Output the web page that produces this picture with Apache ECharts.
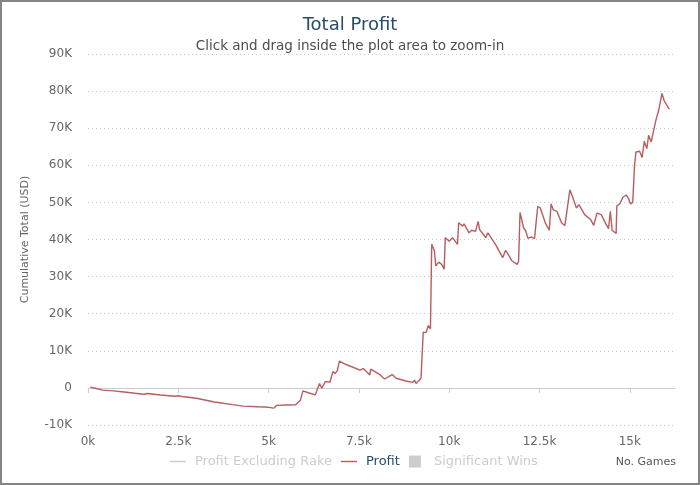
<!DOCTYPE html>
<html>
<head>
<meta charset="utf-8">
<title>Total Profit</title>
<script src="https://cdn.jsdelivr.net/npm/echarts@6/dist/echarts.min.js"></script>
<style>
    html, body { margin: 0; padding: 0; background: #fff; }
    #chart {
        width: 700px;
        height: 485px;
        box-sizing: border-box;
        border: 2px solid #858585;
    }
</style>
</head>
<body>
<div id="chart"></div>
<script>
// 数据（从图上读取的折线拐点）
const gameNo = [
    60, 200, 400, 700, 1000, 1300, 1550, 1650, 1700, 2000, 2400, 2500, 2600, 3000, 3500,
    4000, 4300, 4700, 4900, 5000, 5150, 5220, 5500, 5750, 5880, 5950, 6100, 6290, 6340,
    6410, 6470, 6570, 6700, 6780, 6840, 6900, 6960, 7100, 7250, 7530, 7620, 7800, 7830,
    8080, 8140, 8210, 8420, 8530, 8800, 8990, 9040, 9080, 9180, 9220, 9260, 9280, 9360,
    9420, 9480, 9500, 9515, 9590, 9630, 9710, 9790, 9860, 9890, 10000, 10090, 10230,
    10260, 10370, 10410, 10550, 10620, 10730, 10800, 10840, 11010, 11070, 11280, 11480,
    11560, 11630, 11740, 11880, 11920, 11960, 12060, 12110, 12180, 12270, 12360, 12410,
    12450, 12520, 12660, 12770, 12820, 12880, 12980, 13110, 13200, 13250, 13300, 13340,
    13430, 13520, 13590, 13750, 13920, 14000, 14050, 14090, 14210, 14300, 14410, 14460,
    14510, 14620, 14640, 14720, 14810, 14900, 14960, 15020, 15080, 15130, 15170, 15270,
    15340, 15400, 15470, 15520, 15590, 15660, 15720, 15770, 15800, 15840, 15890, 15950,
    16000, 16060, 16100
];
const profit = [
    200, -100, -600, -800, -1100, -1450, -1700, -1500, -1650, -1900, -2250, -2100, -2300, -2800, -3800,
    -4500, -4900, -5100, -5150, -5250, -5450, -4700, -4600, -4550, -3300, -800, -1300, -1900, -600,
    1200, -100, 1700, 1600, 4400, 3900, 4600, 7200, 6500, 5900, 4800, 5200, 3500, 5050,
    3600, 3000, 2400, 3600, 2600, 1850, 1500, 2100, 1200, 2100, 2750, 3000, 15050, 14900,
    16800, 15900, 16200, 38700, 36900, 32900, 33900, 33300, 32000, 40500, 39500, 40500, 38700,
    44500, 43600, 44200, 41800, 42500, 42200, 44900, 42700, 40500, 41800, 38700, 35100,
    37100, 36000, 34200, 33300, 34200, 47300, 43100, 42500, 40300, 40700, 40200, 40700,
    48900, 48500, 44500, 42500, 49600, 48000, 47600, 44500, 43700, 47100, 46700, 53400,
    51100, 48500, 49400, 46700, 45300, 43800, 44300, 47100, 46700, 44900, 42900, 47600,
    42500, 41600, 49100, 49600, 51400, 52000, 51100, 49600, 50000, 60000, 63600, 63800,
    62100, 66500, 64500, 68100, 66300, 69400, 72100, 71600, 74900, 75200, 79400, 77400,
    77200, 75600, 75200
];
const xTicks = [0, 2500, 5000, 7500, 10000, 12500, 15000];
const seriesNames = ['Profit Excluding Rake', 'Profit', 'Significant Wins'];

const chart = echarts.init(document.getElementById('chart'));

const FONT = 'DejaVu Sans';
// 图例图标：线段 16px 宽 + 右侧留白，方块 12px
const lineIcon = 'path://M0,0 M0,5.3 L16,5.3 L16,6.7 L0,6.7 Z M20,12';
const boxIcon = 'path://M0,0 L12,0 L12,12 L0,12 Z M20,12';

const option = {
    animation: false,
    textStyle: { fontFamily: FONT },
    title: [
        {
            text: 'Total Profit',
            left: 'center',
            top: 9,
            textStyle: { fontSize: 18, fontWeight: 'normal', color: '#274b6d', fontFamily: FONT }
        },
        {
            text: 'Click and drag inside the plot area to zoom-in',
            left: 'center',
            top: 32,
            textStyle: { fontSize: 13.5, fontWeight: 'normal', color: '#4d4d4d', fontFamily: FONT }
        }
    ],
    legend: {
        left: 163,
        top: 448,
        itemWidth: 20,
        itemHeight: 12,
        itemGap: 9,
        inactiveColor: '#cccccc',
        textStyle: { fontSize: 13, color: '#274b6d', fontFamily: FONT },
        data: [
            { name: seriesNames[0], icon: lineIcon },
            { name: seriesNames[1], icon: lineIcon },
            { name: seriesNames[2], icon: boxIcon }
        ],
        selected: {
            'Profit Excluding Rake': false,
            'Profit': true,
            'Significant Wins': false
        }
    },
    graphic: [
        {
            type: 'text',
            right: 22,
            top: 455,
            style: { text: 'No. Games', fontSize: 11, fill: '#555', fontFamily: FONT }
        }
    ],
    grid: { left: 86, right: 23, top: 52, bottom: 58 },
    xAxis: {
        type: 'value',
        min: 0,
        max: 16250,
        interval: 2500,
        axisLine: { lineStyle: { color: '#c6ccd2', width: 1 } },
        axisTick: { show: true, length: 5, lineStyle: { color: '#c6ccd2' }, customValues: xTicks },
        axisLabel: {
            color: '#666',
            fontSize: 12,
            margin: 11,
            customValues: xTicks,
            formatter: v => (v / 1000) + 'k'
        },
        splitLine: { show: false }
    },
    yAxis: {
        type: 'value',
        min: -10000,
        max: 90000,
        interval: 10000,
        name: 'Cumulative Total (USD)',
        nameLocation: 'middle',
        nameGap: 57,
        nameTextStyle: { fontSize: 11, color: '#666', fontFamily: FONT },
        axisLine: { show: false },
        axisTick: { show: false },
        axisLabel: {
            color: '#666',
            fontSize: 12,
            margin: 16,
            formatter: v => v === 0 ? '0' : (v / 1000) + 'K'
        },
        splitLine: { lineStyle: { color: '#c8c8c8', type: [1, 3], width: 1 } }
    },
    series: [
        {
            name: seriesNames[0],
            type: 'line',
            color: '#999999',
            showSymbol: false,
            data: []
        },
        {
            name: seriesNames[1],
            type: 'line',
            color: '#b85c5e',
            showSymbol: false,
            lineStyle: { width: 1.4 },
            data: gameNo.map((g, i) => [g, profit[i]])
        },
        {
            name: seriesNames[2],
            type: 'bar',
            color: '#999999',
            data: []
        }
    ]
};

chart.setOption(option);
</script>
</body>
</html>
